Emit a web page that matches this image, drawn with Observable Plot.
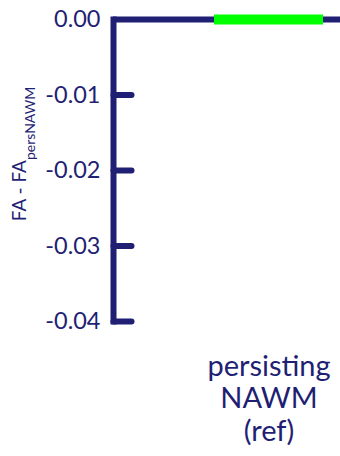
<!DOCTYPE html>
<html>
<head>
<meta charset="utf-8">
<script src="https://cdn.jsdelivr.net/npm/d3@7"></script>
<script src="https://cdn.jsdelivr.net/npm/@observablehq/plot@0.6"></script>
<style>
  html, body { margin: 0; padding: 0; background: #fff; }
  svg { display: block; }
</style>
</head>
<body>
<div id="chart"></div>
<script>
const categories = ["persisting NAWM (ref)"];
const values = [0.0];
const yTicks = [0, -0.01, -0.02, -0.03, -0.04];
const yTickLabels = ["0.00", "-0.01", "-0.02", "-0.03", "-0.04"];
const yLabelMain = "FA - FA";
const yLabelSub = "persNAWM";

const navy = "#1f1f74";
const green = "#00ff00";
const data = categories.map((c, i) => ({cat: c, value: values[i]}));

const lineShape = {
  draw(context, l) { context.moveTo(0, 0); context.lineTo(0, -l); }
};

const chart = Plot.plot({
  width: 340,
  height: 456,
  marginLeft: 113,
  marginRight: 0,
  marginTop: 19,
  marginBottom: 135,
  style: {fontFamily: "Lato, sans-serif", color: navy, background: "#fff"},
  x: {type: "band", domain: categories, range: [214, 323], padding: 0},
  y: {domain: [-0.04, 0], ticks: yTicks},
  marks: [
    Plot.ruleY([0], {stroke: navy, strokeWidth: 6}),
    Plot.frame({anchor: "left", stroke: navy, strokeWidth: 6}),
    Plot.vector(yTicks.slice(1), {y: d => d, frameAnchor: "left", length: 18, rotate: 90, anchor: "start",
      shape: lineShape, stroke: navy, strokeWidth: 6, strokeLinecap: "round"}),
    Plot.tickY(data, {x: "cat", y: "value", stroke: green, strokeWidth: 10}),
    Plot.axisY({ticks: yTicks, tickSize: 0, tickPadding: 13, fontSize: 23.5, fill: navy,
      tickFormat: (d) => yTickLabels[yTicks.indexOf(d)] ?? d3.format(".2f")(d), label: null}),
    Plot.axisX({tickSize: 0, tickPadding: 31, fontSize: 29, lineHeight: 1.12, fill: navy,
      tickFormat: d => d.replace(/ /g, "\n"), label: null})
  ]
});

const svg = d3.select(chart);
const t = svg.append("text")
  .attr("transform", "translate(26,154) rotate(-90)")
  .attr("text-anchor", "middle")
  .attr("fill", navy)
  .attr("font-family", "Lato, sans-serif")
  .attr("font-size", 19);
t.append("tspan").text(yLabelMain);
t.append("tspan").attr("font-size", 14).attr("dy", 9).text(yLabelSub);

document.getElementById("chart").appendChild(chart);
</script>
</body>
</html>
